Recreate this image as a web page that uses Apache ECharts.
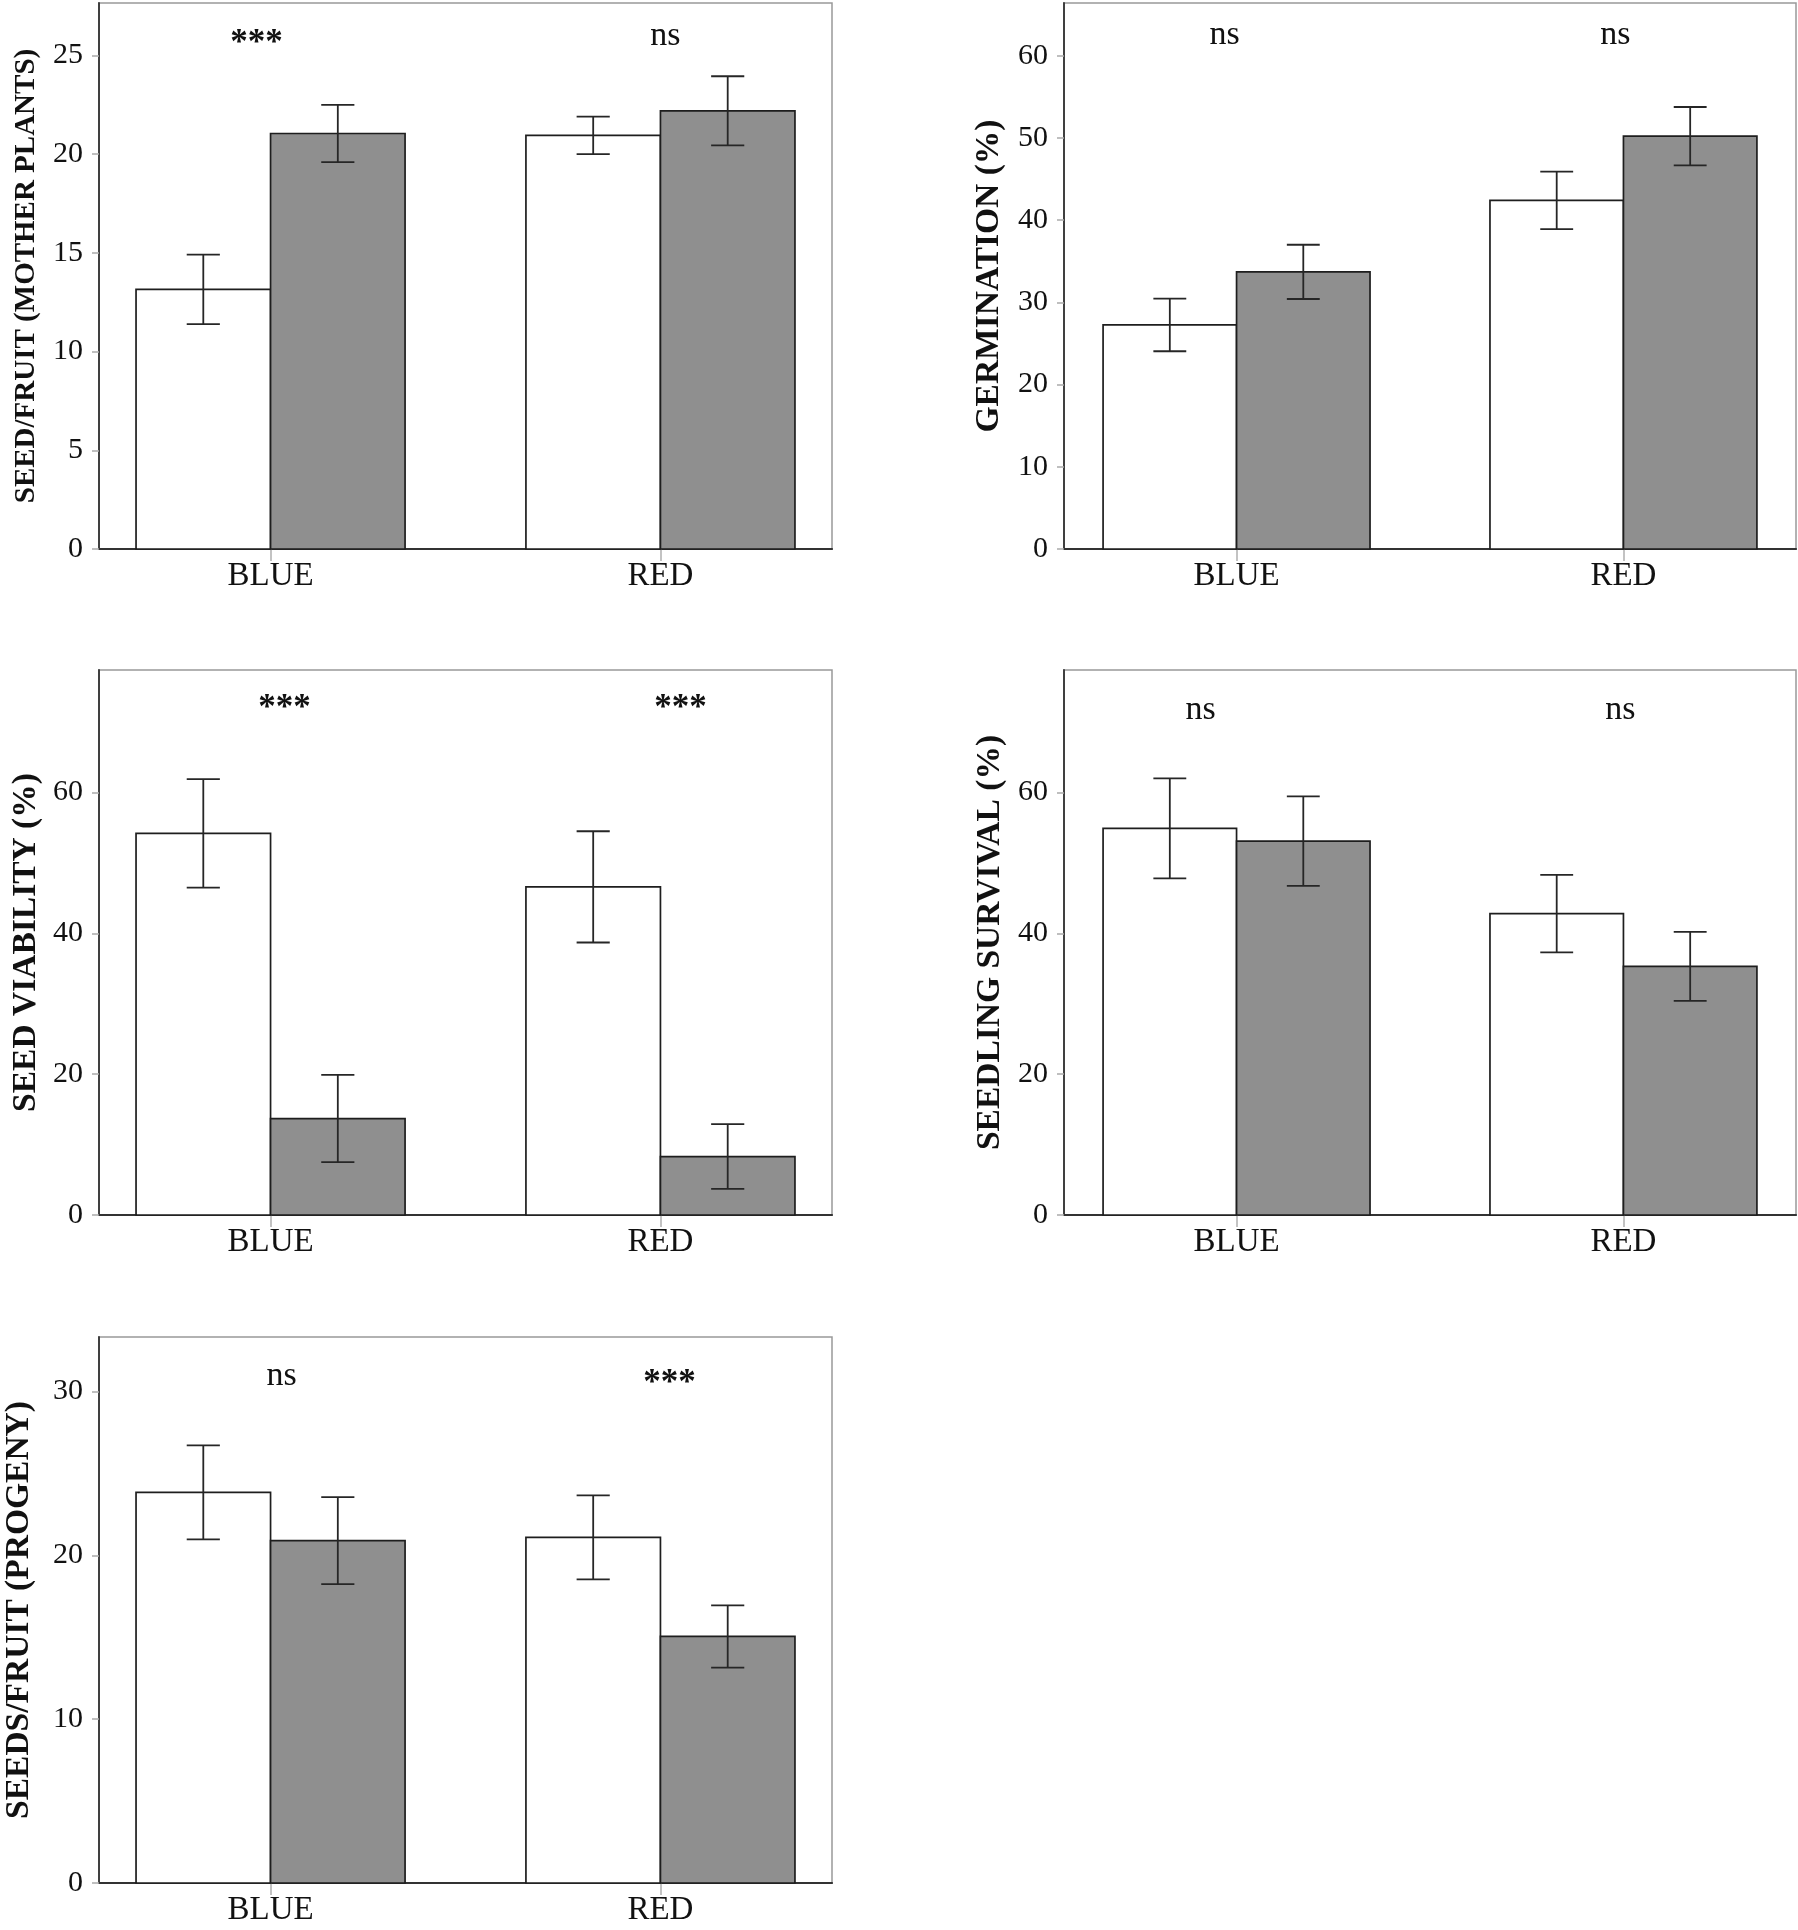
<!DOCTYPE html>
<html>
<head>
<meta charset="utf-8">
<script src="https://cdn.jsdelivr.net/npm/echarts@6/dist/echarts.min.js"></script>
<style>
  html, body { margin: 0; background: #fff; }
  #chart { width: 1798px; height: 1930px; }
</style>
</head>
<body>
<div id="chart"></div>
<script>
// categories on every x axis
const categories = ['BLUE', 'RED'];

// seed/fruit of mother plants
const motherWhite = [13.15, 20.95];
const motherWhiteErr = [1.76, 0.95];
const motherGrey = [21.05, 22.2];
const motherGreyErr = [1.45, 1.75];
const motherSig = ['***', 'ns'];
const motherTicks = [0, 5, 10, 15, 20, 25];
const motherMax = 27.66;

// germination (%)
const germWhite = [27.25, 42.4];
const germWhiteErr = [3.2, 3.5];
const germGrey = [33.7, 50.2];
const germGreyErr = [3.3, 3.55];
const germSig = ['ns', 'ns'];
const germTicks = [0, 10, 20, 30, 40, 50, 60];
const germMax = 66.4;

// seed viability (%)
const viabWhite = [54.2, 46.6];
const viabWhiteErr = [7.7, 7.9];
const viabGrey = [13.7, 8.3];
const viabGreyErr = [6.2, 4.6];
const viabSig = ['***', '***'];
const viabTicks = [0, 20, 40, 60];
const viabMax = 77.4;

// seedling survival (%)
const survWhite = [54.9, 42.8];
const survWhiteErr = [7.1, 5.5];
const survGrey = [53.1, 35.3];
const survGreyErr = [6.35, 4.9];
const survSig = ['ns', 'ns'];
const survTicks = [0, 20, 40, 60];
const survMax = 77.4;

// seeds/fruit of progeny
const progWhite = [23.85, 21.1];
const progWhiteErr = [2.87, 2.56];
const progGrey = [20.9, 15.05];
const progGreyErr = [2.65, 1.9];
const progSig = ['ns', '***'];
const progTicks = [0, 10, 20, 30];
const progMax = 33.33;

const panels = [
  { name: 'SEED/FRUIT (MOTHER PLANTS)', white: motherWhite, whiteErr: motherWhiteErr, grey: motherGrey, greyErr: motherGreyErr, sig: motherSig, ticks: motherTicks, max: motherMax },
  { name: 'GERMINATION (%)', white: germWhite, whiteErr: germWhiteErr, grey: germGrey, greyErr: germGreyErr, sig: germSig, ticks: germTicks, max: germMax },
  { name: 'SEED VIABILITY (%)', white: viabWhite, whiteErr: viabWhiteErr, grey: viabGrey, greyErr: viabGreyErr, sig: viabSig, ticks: viabTicks, max: viabMax },
  { name: 'SEEDLING SURVIVAL (%)', white: survWhite, whiteErr: survWhiteErr, grey: survGrey, greyErr: survGreyErr, sig: survSig, ticks: survTicks, max: survMax },
  { name: 'SEEDS/FRUIT (PROGENY)', white: progWhite, whiteErr: progWhiteErr, grey: progGrey, greyErr: progGreyErr, sig: progSig, ticks: progTicks, max: progMax }
];

// page layout of each panel (pixels / axis padding), kept apart from the data
const layout = [
  { left: 99, top: 3, width: 733, height: 546, xPad: 0.44, nameGap: 58, nameSize: 29, sigDx: [-14, 5], sigDy: 33 },
  { left: 1064, top: 3, width: 732, height: 546, xPad: 0.446, nameGap: 58, nameSize: 33.5, sigDx: [-12, -8], sigDy: 32 },
  { left: 99, top: 670, width: 733, height: 545, xPad: 0.44, nameGap: 56, nameSize: 33.5, sigDx: [14, 20], sigDy: 31 },
  { left: 1064, top: 670, width: 732, height: 545, xPad: 0.446, nameGap: 57, nameSize: 33.5, sigDx: [-36, -3], sigDy: 40 },
  { left: 99, top: 1337, width: 733, height: 546, xPad: 0.44, nameGap: 63, nameSize: 33.5, sigDx: [11, 9], sigDy: 39 }
];

const FONT = '"Liberation Serif", "Times New Roman", serif';
const BAR_W = 0.345;   // bar width in category units
const CAP_W = 0.085;   // error bar cap width in category units
const WHITE = '#ffffff';
const GREY = '#8f8f8f';

function barRender(fill) {
  return function (params, api) {
    const c = api.value(0), v = api.value(1), side = api.value(2);
    const x0 = side < 0 ? c - BAR_W : c;
    const tl = api.coord([x0, v]);
    const br = api.coord([x0 + BAR_W, 0]);
    return {
      type: 'rect',
      shape: { x: tl[0], y: tl[1], width: br[0] - tl[0], height: br[1] - tl[1] },
      style: { fill: fill, stroke: '#1e1e1e', lineWidth: 1.7 }
    };
  };
}

function errRender(params, api) {
  const c = api.value(0), v = api.value(1), e = api.value(2), side = api.value(3);
  const xc = c + side * BAR_W / 2;
  const hi = api.coord([xc, v + e]);
  const lo = api.coord([xc, v - e]);
  const half = api.size([CAP_W, 0])[0] / 2;
  const st = { stroke: '#262626', lineWidth: 1.8 };
  return {
    type: 'group',
    children: [
      { type: 'line', shape: { x1: hi[0], y1: hi[1], x2: lo[0], y2: lo[1] }, style: st },
      { type: 'line', shape: { x1: hi[0] - half, y1: hi[1], x2: hi[0] + half, y2: hi[1] }, style: st },
      { type: 'line', shape: { x1: lo[0] - half, y1: lo[1], x2: lo[0] + half, y2: lo[1] }, style: st }
    ]
  };
}

function sigRender(p, lay) {
  return function (params, api) {
    const i = params.dataIndex;
    const pt = api.coord([api.value(0), api.value(1)]);
    const txt = p.sig[i];
    const star = txt.indexOf('*') >= 0;
    return {
      type: 'text',
      style: {
        text: txt,
        x: pt[0] + lay.sigDx[i],
        y: pt[1] + lay.sigDy + (star ? 8 : 0),
        fontFamily: FONT,
        fontSize: star ? 35 : 34,
        fontWeight: star ? 'bold' : 'normal',
        fill: '#111',
        textAlign: 'center',
        textVerticalAlign: 'middle'
      }
    };
  };
}

const grid = [], xAxis = [], yAxis = [], series = [];

panels.forEach(function (p, k) {
  const lay = layout[k];
  grid.push({
    left: lay.left, top: lay.top, width: lay.width, height: lay.height,
    show: true, borderColor: '#999999', borderWidth: 1.5, backgroundColor: 'transparent'
  });
  xAxis.push({
    gridIndex: k, type: 'value', min: 1 - lay.xPad, max: 2 + lay.xPad,
    axisLine: { show: true, onZero: false, lineStyle: { color: '#333', width: 2.2 } },
    axisTick: { show: true, customValues: [1, 2], length: 12, lineStyle: { color: '#b0b0b0', width: 1.5 } },
    axisLabel: {
      customValues: [1, 2],
      formatter: function (v) { return categories[Math.round(v) - 1] || ''; },
      fontFamily: FONT, fontSize: 33, color: '#111', margin: 11
    },
    splitLine: { show: false }
  });
  yAxis.push({
    gridIndex: k, type: 'value', min: 0, max: p.max,
    name: p.name, nameLocation: 'middle', nameGap: lay.nameGap,
    nameTextStyle: { fontFamily: FONT, fontWeight: 'bold', fontSize: lay.nameSize, color: '#111' },
    axisLine: { show: true, lineStyle: { color: '#333', width: 1.8 } },
    axisTick: { show: true, customValues: p.ticks, length: 7, lineStyle: { color: '#aaa', width: 1.5 } },
    axisLabel: { customValues: p.ticks, fontFamily: FONT, fontSize: 30, color: '#111', margin: 16 },
    splitLine: { show: false }
  });

  const whiteData = p.white.map(function (v, i) { return [i + 1, v, -1]; });
  const greyData = p.grey.map(function (v, i) { return [i + 1, v, 1]; });
  const errData = p.white.map(function (v, i) { return [i + 1, v, p.whiteErr[i], -1]; })
    .concat(p.grey.map(function (v, i) { return [i + 1, v, p.greyErr[i], 1]; }));

  series.push({
    type: 'custom', xAxisIndex: k, yAxisIndex: k, renderItem: barRender(WHITE),
    data: whiteData, encode: { x: 0, y: 1 }, silent: true, z: 2
  });
  series.push({
    type: 'custom', xAxisIndex: k, yAxisIndex: k, renderItem: barRender(GREY),
    data: greyData, encode: { x: 0, y: 1 }, silent: true, z: 2
  });
  series.push({
    type: 'custom', xAxisIndex: k, yAxisIndex: k, renderItem: errRender,
    data: errData, encode: { x: 0, y: 1 }, silent: true, z: 3
  });
  series.push({
    type: 'custom', xAxisIndex: k, yAxisIndex: k, renderItem: sigRender(p, lay),
    data: [[1, p.max], [2, p.max]], encode: { x: 0, y: 1 }, silent: true, z: 4
  });
});

const chart = echarts.init(document.getElementById('chart'), null, { renderer: 'canvas' });
chart.setOption({
  animation: false,
  backgroundColor: '#ffffff',
  grid: grid,
  xAxis: xAxis,
  yAxis: yAxis,
  series: series
});
</script>
</body>
</html>
